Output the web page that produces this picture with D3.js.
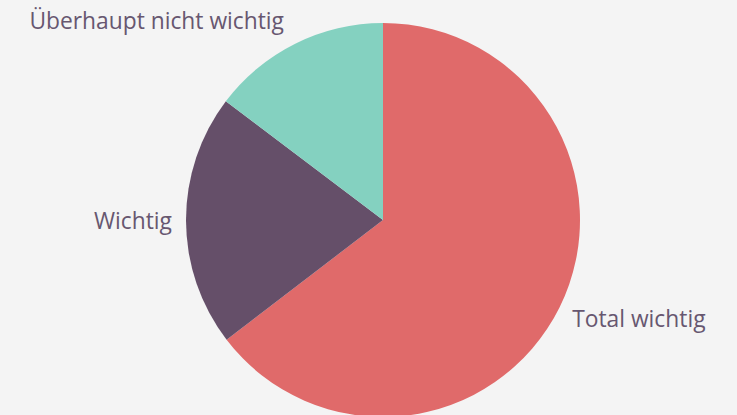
<!DOCTYPE html>
<meta charset="utf-8">
<style>
body { margin: 0; background: #f4f4f4; }
.label { font: 22.8px "Open Sans", sans-serif; fill: #675770; }
</style>
<body>
<script src="https://d3js.org/d3.v7.min.js"></script>
<script>
// slices, clockwise from 12 o'clock
var categories = ["Total wichtig", "Wichtig", "Überhaupt nicht wichtig"];
var values = [64.6, 20.7, 14.7];
var colors = ["#e06a6a", "#654f69", "#84d1c0"];

var width = 737, height = 415,
    cx = 383, cy = 220, radius = 197;

var svg = d3.select("body").append("svg")
    .attr("width", width)
    .attr("height", height)
  .append("g")
    .attr("transform", "translate(" + cx + "," + cy + ")");

var data = categories.map(function(c, i) { return {name: c, value: values[i], color: colors[i]}; });

var pie = d3.pie().sort(null).value(function(d) { return d.value; });
var arc = d3.arc().innerRadius(0).outerRadius(radius);
var labelArc = d3.arc().innerRadius(radius + 14).outerRadius(radius + 14);

var arcs = pie(data);

svg.selectAll("path")
    .data(arcs)
  .enter().append("path")
    .attr("d", arc)
    .attr("fill", function(d) { return d.data.color; });

svg.selectAll(".label")
    .data(arcs)
  .enter().append("text")
    .attr("class", "label")
    .attr("transform", function(d) {
      var c = labelArc.centroid(d);
      // nudge labels away from the rim vertically
      if (c[1] < -radius * 0.6) { c[1] -= 10; c[0] -= 5; }
      if (c[1] > radius * 0.3) c[1] += 6;
      return "translate(" + c + ")";
    })
    .attr("dy", "0.35em")
    .attr("text-anchor", function(d) {
      var mid = (d.startAngle + d.endAngle) / 2;
      return mid < Math.PI ? "start" : "end";
    })
    .text(function(d) { return d.data.name; });
</script>
</body>
